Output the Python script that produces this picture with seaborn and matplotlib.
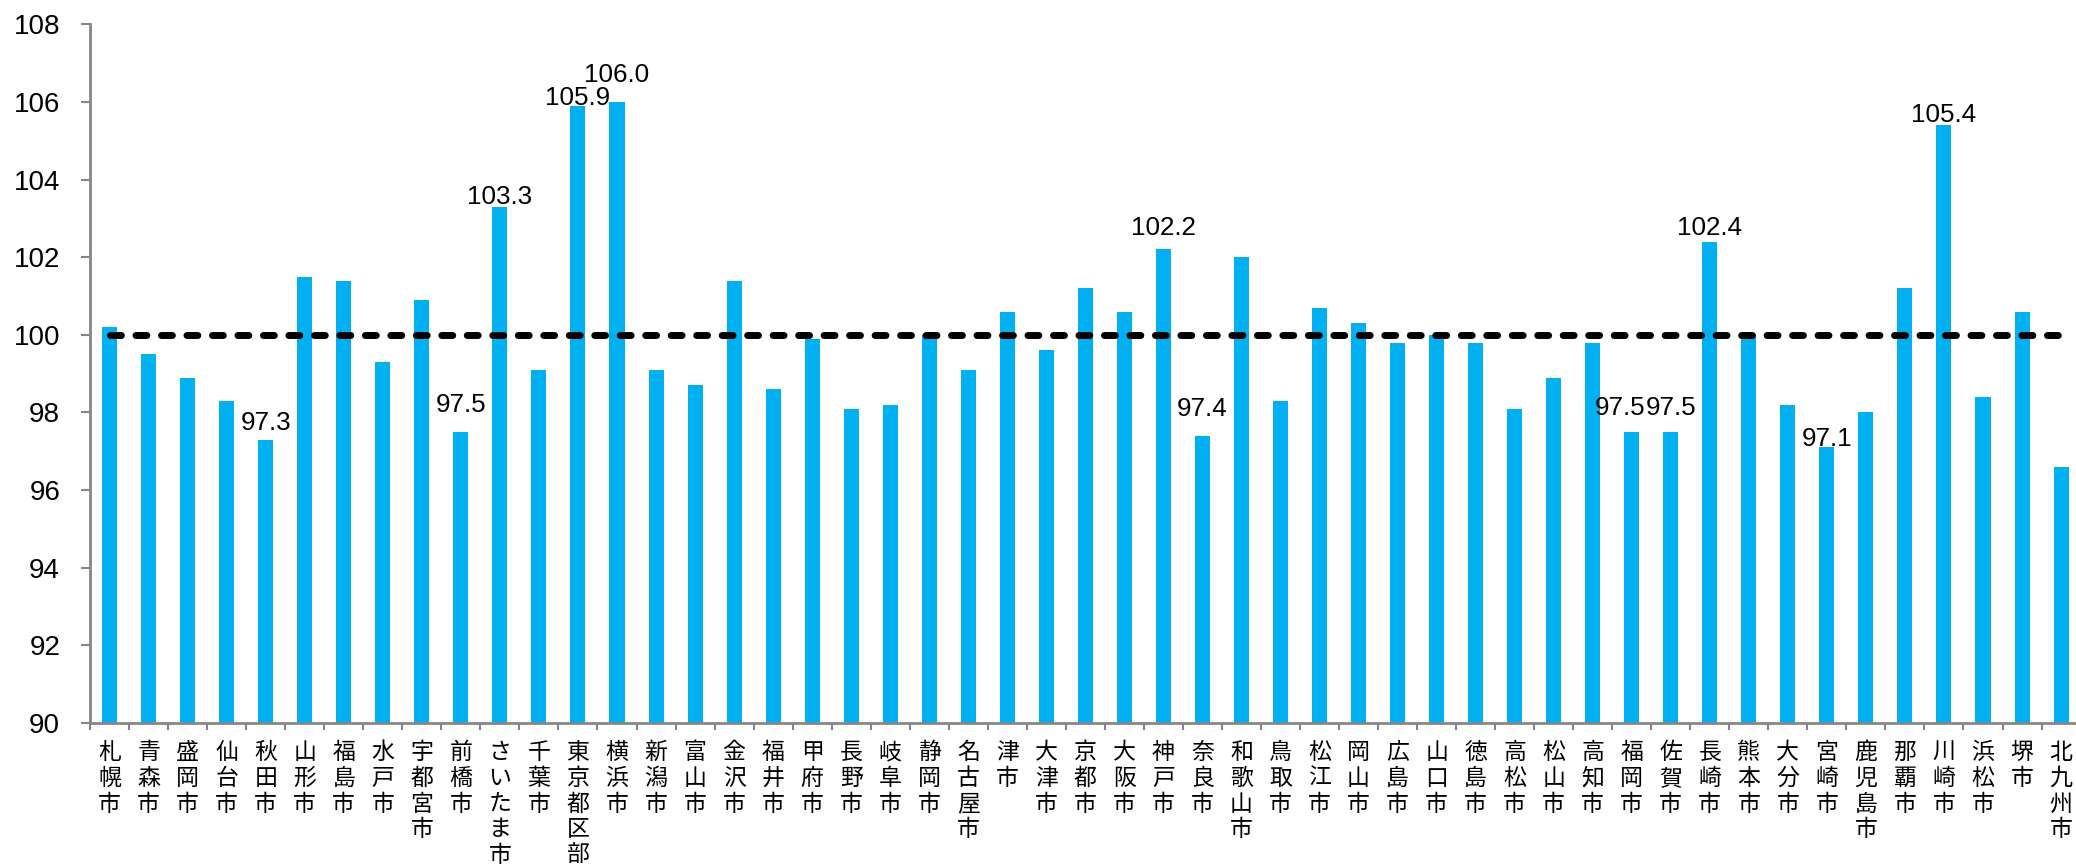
import numpy as np
import seaborn as sns
import matplotlib.pyplot as plt

# Cities (x categories) and index values
cities = ['札幌市', '青森市', '盛岡市', '仙台市', '秋田市', '山形市', '福島市', '水戸市',
          '宇都宮市', '前橋市', 'さいたま市', '千葉市', '東京都区部', '横浜市', '新潟市',
          '富山市', '金沢市', '福井市', '甲府市', '長野市', '岐阜市', '静岡市', '名古屋市',
          '津市', '大津市', '京都市', '大阪市', '神戸市', '奈良市', '和歌山市', '鳥取市',
          '松江市', '岡山市', '広島市', '山口市', '徳島市', '高松市', '松山市', '高知市',
          '福岡市', '佐賀市', '長崎市', '熊本市', '大分市', '宮崎市', '鹿児島市', '那覇市',
          '川崎市', '浜松市', '堺市', '北九州市']
values = [100.2, 99.5, 98.9, 98.3, 97.3, 101.5, 101.4, 99.3,
          100.9, 97.5, 103.3, 99.1, 105.9, 106.0, 99.1,
          98.7, 101.4, 98.6, 99.9, 98.1, 98.2, 100.0, 99.1,
          100.6, 99.6, 101.2, 100.6, 102.2, 97.4, 102.0, 98.3,
          100.7, 100.3, 99.8, 100.0, 99.8, 98.1, 98.9, 99.8,
          97.5, 97.5, 102.4, 100.0, 98.2, 97.1, 98.0, 101.2,
          105.4, 98.4, 100.6, 96.6]
baseline = 100.0
y_ticks = [90, 92, 94, 96, 98, 100, 102, 104, 106, 108]
labelled = ['秋田市', '前橋市', 'さいたま市', '東京都区部', '横浜市', '神戸市', '奈良市',
            '福岡市', '佐賀市', '長崎市', '宮崎市', '川崎市']

# label nudges in pixels (dx, dy above bar top)
label_offsets = {'秋田市': (0, 10), '前橋市': (0, 20), 'さいたま市': (0, 3),
                 '東京都区部': (0, 1), '横浜市': (0, 20), '神戸市': (0, 14),
                 '奈良市': (0, 20), '福岡市': (-12, 17), '佐賀市': (0, 17),
                 '長崎市': (0, 7), '宮崎市': (0, 1), '川崎市': (0, 3)}

num_font = ['Liberation Sans', 'DejaVu Sans']
jp_font = ['Noto Sans CJK JP', 'DejaVu Sans']
axis_grey = '#868686'

fig = plt.figure(figsize=(20.76, 8.67), dpi=100)
ax = fig.add_axes([0.0434, 0.166, 0.9588, 0.806])

sns.barplot(x=cities, y=values, color='#00B0F0', saturation=1, width=0.385, ax=ax)

n = len(cities)
# dashed reference line at 100
ax.hlines(baseline, 0, n - 1, colors='black', linewidth=5,
          linestyles=(0, (1.57, 2.1)), capstyle='round', zorder=3)

# data labels
for i, (c, v) in enumerate(zip(cities, values)):
    if c in labelled:
        dx, dy = label_offsets[c]
        ax.annotate(f'{v:.1f}', xy=(i, v), xytext=(dx, dy), textcoords='offset pixels',
                    ha='center', va='baseline', fontsize=18.7, family=num_font, zorder=4)

ax.set_ylim(90, 108)
ax.set_xlim(-0.5, n - 0.5)
ax.set_yticks(y_ticks)
ax.set_yticklabels([str(t) for t in y_ticks], fontsize=20, family=num_font)
ax.set_xticks(range(n))
ax.set_xticklabels(['\n'.join(c) for c in cities], fontsize=16.5, family=jp_font,
                   va='top', linespacing=1.15)
ax.set_xticks(np.arange(-0.5, n, 1), minor=True)
ax.tick_params(axis='x', which='major', length=0, pad=13)
ax.tick_params(axis='x', which='minor', length=5, width=1.5, color=axis_grey, direction='out')
ax.tick_params(axis='y', length=6.5, width=1.5, color=axis_grey, pad=15)

for s in ['top', 'right']:
    ax.spines[s].set_visible(False)
for s in ['left', 'bottom']:
    ax.spines[s].set_color(axis_grey)
    ax.spines[s].set_linewidth(2)
ax.set_xlabel('')
ax.set_ylabel('')

fig.savefig('out.png', dpi=100)
